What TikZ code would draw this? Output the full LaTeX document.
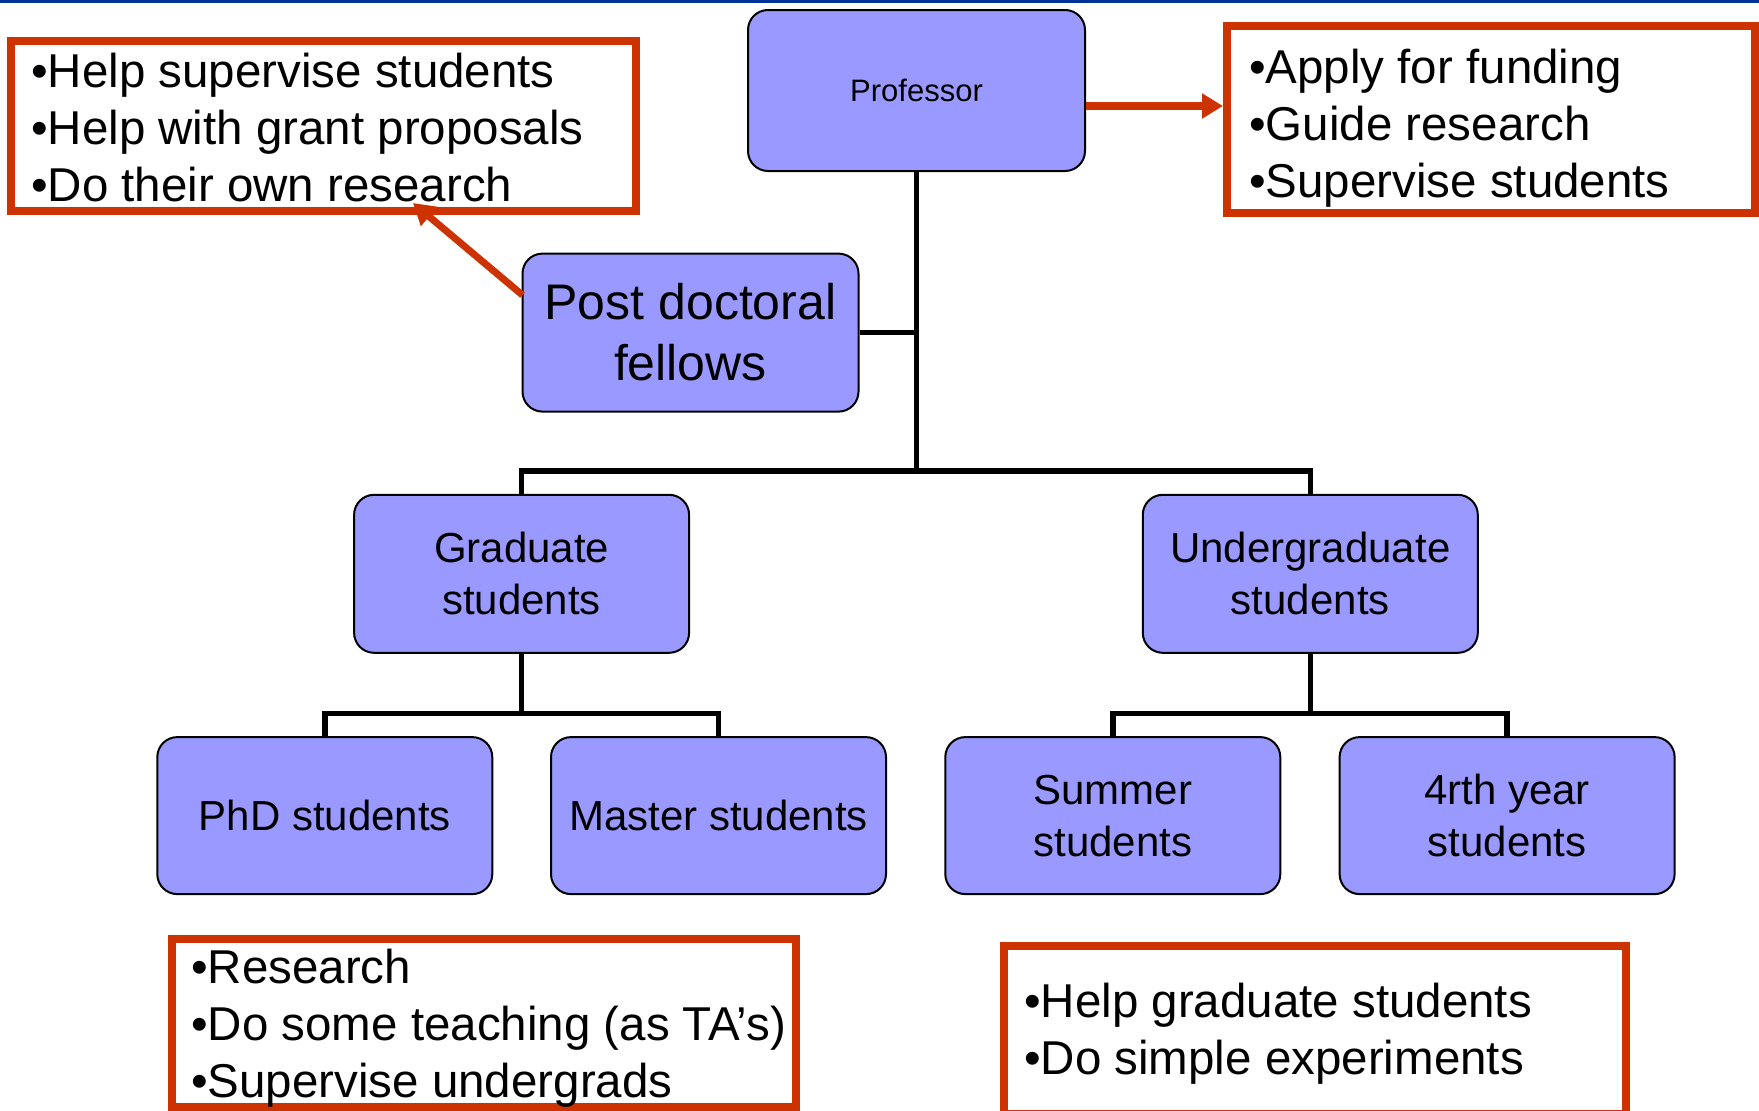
\documentclass[tikz,border=0pt]{standalone}
\usepackage{fontspec}
\setmainfont{Liberation Sans}
\usetikzlibrary{arrows.meta,calc}
\definecolor{boxfill}{RGB}{153,153,255}
\definecolor{callred}{RGB}{204,51,0}
\definecolor{topblue}{RGB}{0,51,153}
\begin{document}
\begin{tikzpicture}[x=1pt,y=-1pt,
  rolebox/.style={draw=black,line width=2pt,fill=boxfill,rounded corners=20pt,
    minimum width=335pt,minimum height=158pt,inner sep=0pt,align=center,
    font=\fontsize{42}{52}\selectfont},
  callout/.style={draw=callred,line width=8pt,fill=white,inner sep=0pt},
  calltext/.style={anchor=base west,inner sep=0pt,font=\fontsize{47.5}{57}\selectfont},
  conn/.style={draw=black,line width=5.5pt},
  redarrow/.style={draw=callred,line width=8pt,-{Triangle[length=21pt,width=24pt]}}
]
\path[use as bounding box,clip] (0,0) rectangle (1759,1111);
\fill[topblue] (0,0) rectangle (1759,3);

% role boxes
\node[rolebox,minimum width=337pt,minimum height=161pt,font=\fontsize{31}{37}\selectfont] (prof) at (916.5,90.5) {Professor};
\node[rolebox,minimum width=336pt,font=\fontsize{50}{61}\selectfont] (post) at (690.5,332.6) {Post doctoral\\fellows};
\node[rolebox] (grad) at (521.6,573.8) {Graduate\\students};
\node[rolebox] (under) at (1310.3,573.8) {Undergraduate\\students};
\node[rolebox,minimum height=157pt] (phd) at (324.8,815.6) {PhD students};
\node[rolebox,minimum height=157pt] (master) at (718.5,815.6) {Master students};
\node[rolebox,minimum height=157pt] (summer) at (1112.8,815.6) {Summer\\students};
\node[rolebox,minimum height=157pt] (fourth) at (1507.1,815.6) {4rth year\\students};

% connectors
\coordinate (j1) at (916.5,471);
\coordinate (j2) at (521.6,713.5);
\coordinate (j3) at (1310.3,713.5);
\draw[conn] (prof.south) -- (j1);
\draw[conn] (post.east) -- (post.east -| j1);
\draw[conn] (grad.north) |- (j1) -| (under.north);
\draw[conn] (grad.south) -- (j2);
\draw[conn] (phd.north) |- (j2) -| (master.north);
\draw[conn] (under.south) -- (j3);
\draw[conn] (summer.north) |- (j3) -| (fourth.north);

% callouts
\node[callout,minimum width=625pt,minimum height=170pt] (lbox) at (323.5,126) {};
\node[callout,minimum width=528pt,minimum height=187pt] (rbox) at (1491,119.5) {};
\node[callout,minimum width=624pt,minimum height=168pt] (blbox) at (484,1023) {};
\node[callout,minimum width=622pt,minimum height=168pt] (brbox) at (1315,1030) {};

\node[calltext] (l1) at (31,87) {•Help supervise students};
\node[calltext] (l2) at (31,144) {•Help with grant proposals};
\node[calltext] (l3) at (31,201) {•Do their own research};

\node[calltext] (r1) at (1249,83) {•Apply for funding};
\node[calltext] (r2) at (1249,140) {•Guide research};
\node[calltext] (r3) at (1249,197) {•Supervise students};

\node[calltext] (b1) at (191,983) {•Research};
\node[calltext] (b2) at (191,1040) {•Do some teaching (as TA’s)};
\node[calltext] (b3) at (191,1097) {•Supervise undergrads};

\node[calltext] (c1) at (1024,1017) {•Help graduate students};
\node[calltext] (c2) at (1024,1074) {•Do simple experiments};

% red arrows
\coordinate (ra) at ($(rbox.west)+(0,-13.5)$);
\draw[redarrow] (prof.east |- ra) -- (ra);
\coordinate (la) at (413,203);
\draw[redarrow,line width=7pt] ($(post.west)+(1,-37.5)$) -- (la);
\end{tikzpicture}
\end{document}
